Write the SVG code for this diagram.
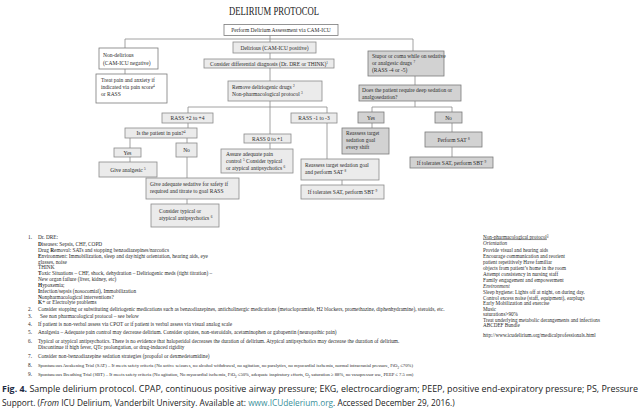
<svg xmlns="http://www.w3.org/2000/svg" width="640" height="417" viewBox="0 0 640 417">
<style>
.bw{fill:#ffffff;stroke:#7a7a7a;stroke-width:0.8}
.bl{fill:#ebebeb;stroke:#8a8a8a;stroke-width:0.8}
.bd{fill:#d2d2d2;stroke:#7a7a7a;stroke-width:0.8}
.t{font-family:"Liberation Serif","Times New Roman",serif;font-size:5.5px;fill:#2a2a2a}
.c{text-anchor:middle}
.f{font-family:"Liberation Serif","Times New Roman",serif;font-size:5.3px;fill:#2a2a2a}
.fs{font-family:"Liberation Serif","Times New Roman",serif;font-size:4.7px;fill:#2a2a2a}
.r{font-family:"Liberation Serif","Times New Roman",serif;font-size:5.2px;fill:#2a2a2a}
.sup{font-size:3.4px;baseline-shift:super}
.sub{font-size:3.2px;baseline-shift:sub}
.cap{font-family:"Open Sans","Liberation Sans",Arial,sans-serif;font-size:8.3px;fill:#222}
#conn line{stroke:#8c8c8c;stroke-width:0.8}
</style>
<rect width="640" height="417" fill="#ffffff"/>
<text x="274" y="15" class="c" font-family="Liberation Serif,serif" font-size="13" fill="#222" textLength="90" lengthAdjust="spacingAndGlyphs">DELIRIUM PROTOCOL</text>

<g id="conn">
<line x1="270" y1="35" x2="270" y2="42"/>
<line x1="125" y1="39" x2="413" y2="39"/>
<line x1="125" y1="39" x2="125" y2="74"/>
<line x1="413" y1="39" x2="413" y2="51"/>
<line x1="270" y1="53" x2="270" y2="59"/>
<line x1="270" y1="68" x2="270" y2="81"/>
<line x1="270" y1="101" x2="270" y2="134"/>
<line x1="188" y1="107" x2="327" y2="107"/>
<line x1="188" y1="107" x2="188" y2="128"/>
<line x1="327" y1="107" x2="327" y2="159"/>
<line x1="130" y1="138" x2="130" y2="162"/>
<line x1="187" y1="138" x2="187" y2="204"/>
<line x1="270" y1="143" x2="270" y2="149"/>
<line x1="342" y1="180" x2="342" y2="185"/>
<line x1="415" y1="76" x2="415" y2="85"/>
<line x1="415" y1="101" x2="415" y2="107"/>
<line x1="372" y1="107" x2="452" y2="107"/>
<line x1="372" y1="107" x2="372" y2="128"/>
<line x1="452" y1="107" x2="452" y2="157"/>
</g>

<g id="n_perform"><rect class="bw" x="224" y="24.5" width="114" height="11"/><text class="t c" x="281" y="32">Perform Delirium Assessment via CAM-ICU</text></g>
<g id="n_nondel"><rect class="bw" x="99" y="48" width="59" height="21"/><text class="t" x="103" y="57">Non-delirious</text><text class="t" x="103" y="64.5">(CAM-ICU negative)</text></g>
<g id="n_treat"><rect class="bw" x="96" y="74" width="71" height="29"/><text class="t" x="101" y="82">Treat pain and anxiety if</text><text class="t" x="101" y="89">indicated via pain score<tspan class="sup">4</tspan></text><text class="t" x="101" y="96">or RASS</text></g>
<g id="n_delirious"><rect class="bl" x="233" y="42" width="83" height="11"/><text class="t c" x="274.5" y="49.5">Delirious (CAM-ICU positive)</text></g>
<g id="n_consider"><rect class="bl" x="204" y="59" width="130" height="9"/><text class="t c" x="269" y="65.8">Consider differential diagnosis (Dr. DRE or THINK)<tspan class="sup">1</tspan></text></g>
<g id="n_remove"><rect class="bl" x="228" y="81" width="94" height="20"/><text class="t" x="232" y="89">Remove deliriogenic drugs <tspan class="sup">2</tspan></text><text class="t" x="232" y="95.5">Non-pharmacological protocol <tspan class="sup">3</tspan></text></g>
<g id="n_stupor"><rect class="bd" x="368" y="51" width="76" height="25"/><text class="t" x="372" y="57.5">Stupor or coma while on sedative</text><text class="t" x="372" y="64.5">or analgesic drugs <tspan class="sup">7</tspan></text><text class="t" x="372" y="71.5">(RASS -4 or -5)</text></g>
<g id="n_does"><rect class="bd" x="359" y="85" width="102" height="16"/><text class="t" x="362" y="92">Does the patient require deep sedation or</text><text class="t" x="362" y="98.5">analgosedation?</text></g>
<g id="n_yes_r"><rect class="bd" x="358" y="112" width="26" height="11"/><text class="t c" x="371" y="119.5">Yes</text></g>
<g id="n_no_r"><rect class="bd" x="435" y="112" width="27" height="11"/><text class="t c" x="448.5" y="119.5">No</text></g>
<g id="n_reassess_shift"><rect class="bd" x="342" y="128" width="47" height="26"/><text class="t" x="346" y="135">Reassess target</text><text class="t" x="346" y="142">sedation goal</text><text class="t" x="346" y="149">every shift</text></g>
<g id="n_sat_r"><rect class="bd" x="425" y="132" width="57" height="15"/><text class="t c" x="453.5" y="141.5">Perform SAT <tspan class="sup">8</tspan></text></g>
<g id="n_sbt_r"><rect class="bd" x="410" y="157" width="83" height="11"/><text class="t c" x="451.5" y="164.5">If tolerates SAT, perform SBT <tspan class="sup">9</tspan></text></g>
<g id="n_rass_m1"><rect class="bl" x="291" y="113" width="46" height="10"/><text class="t c" x="314" y="120">RASS -1 to -3</text></g>
<g id="n_reassess_sat"><rect class="bl" x="301" y="159" width="78" height="21"/><text class="t" x="305" y="167">Reassess target sedation goal</text><text class="t" x="305" y="174">and perform SAT <tspan class="sup">8</tspan></text></g>
<g id="n_sbt_l"><rect class="bl" x="301" y="185" width="83" height="14"/><text class="t c" x="342.5" y="193.8">If tolerates SAT, perform SBT <tspan class="sup">9</tspan></text></g>
<g id="n_rass_p2"><rect class="bl" x="162" y="113" width="51" height="10"/><text class="t c" x="187.5" y="120">RASS +2 to +4</text></g>
<g id="n_pain"><rect class="bl" x="125" y="128" width="72" height="10"/><text class="t c" x="161" y="135">Is the patient in pain?<tspan class="sup">4</tspan></text></g>
<g id="n_yes_l"><rect class="bl" x="114" y="148" width="27" height="9"/><text class="t c" x="127.5" y="154.5">Yes</text></g>
<g id="n_no_l"><rect class="bl" x="176" y="143" width="21" height="14"/><text class="t c" x="186.5" y="152">No</text></g>
<g id="n_analgesic"><rect class="bl" x="99" y="162" width="58" height="15"/><text class="t c" x="128" y="171.5">Give analgesic <tspan class="sup">5</tspan></text></g>
<g id="n_sedative"><rect class="bl" x="146" y="178" width="93" height="21"/><text class="t" x="150" y="186">Give adequate sedative for safety if</text><text class="t" x="150" y="193">required and titrate to goal RASS</text></g>
<g id="n_typical"><rect class="bl" x="151" y="204" width="68" height="23"/><text class="t" x="159" y="212.5">Consider typical or</text><text class="t" x="159" y="219.5">atypical antipsychotics <tspan class="sup">6</tspan></text></g>
<g id="n_rass_0"><rect class="bl" x="244" y="134" width="47" height="9"/><text class="t c" x="267.5" y="140.5">RASS 0 to +1</text></g>
<g id="n_assure"><rect class="bl" x="221" y="149" width="72" height="24"/><text class="t" x="226" y="156">Assure adequate pain</text><text class="t" x="226" y="163">control <tspan class="sup">5</tspan> Consider typical</text><text class="t" x="226" y="170">or atypical antipsychotics <tspan class="sup">6</tspan></text></g>

<g id="footnotes">
<text class="f" x="28" y="239">1.</text><text class="f" x="38" y="239">Dr. DRE:</text>
<text class="f" x="38" y="246"><tspan font-weight="bold">D</tspan>iseases: Sepsis, CHF, COPD</text>
<text class="f" x="38" y="252">Drug <tspan font-weight="bold">R</tspan>emoval: SATs and stopping benzodiazepines/narcotics</text>
<text class="f" x="38" y="258"><tspan font-weight="bold">E</tspan>nvironment: Immobilization, sleep and day/night orientation, hearing aids, eye</text>
<text class="f" x="38" y="264">glasses, noise</text>
<text class="f" x="38" y="269">THINK</text>
<text class="f" x="38" y="275"><tspan font-weight="bold">T</tspan>oxic Situations – CHF, shock, dehydration – Deliriogenic meds (tight titration) –</text>
<text class="f" x="38" y="281">New organ failure (liver, kidney, etc)</text>
<text class="f" x="38" y="287"><tspan font-weight="bold">H</tspan>ypoxemia;</text>
<text class="f" x="38" y="293"><tspan font-weight="bold">I</tspan>nfection/sepsis (nosocomial), Immobilization</text>
<text class="f" x="38" y="298.5"><tspan font-weight="bold">N</tspan>onpharmacological interventions?</text>
<text class="f" x="38" y="304"><tspan font-weight="bold">K</tspan>+ or Electrolyte problems</text>
<text class="f" x="28" y="311">2.</text><text class="f" x="38" y="311">Consider stopping or substituting deliriogenic medications such as benzodiazepines, anticholinergic medications (metoclopramide, H2 blockers, promethazine, diphenhydramine), steroids, etc.</text>
<text class="f" x="28" y="318">3.</text><text class="f" x="40" y="318">See non pharmacological protocol – see below</text>
<text class="f" x="28" y="326">4.</text><text class="f" x="38" y="326">If patient is non-verbal assess via CPOT or if patient is verbal assess via visual analog scale</text>
<text class="f" x="28" y="334">5.</text><text class="f" x="38" y="334">Analgesia – Adequate pain control may decrease delirium. Consider opiates, non-steroidals, acetaminophen or gabapentin (neuropathic pain)</text>
<text class="f" x="28" y="342.5">6.</text><text class="f" x="38" y="342.5">Typical or atypical antipsychotics. There is no evidence that haloperidol decreases the duration of delirium. Atypical antipsychotics may decrease the duration of delirium.</text>
<text class="f" x="38" y="348.5">Discontinue if high fever, QTc prolongation, or drug-induced rigidity</text>
<text class="f" x="28" y="358">7.</text><text class="f" x="38" y="358">Consider non-benzodiazepine sedation strategies (propofol or dexmedetomidine)</text>
<text class="f" x="28" y="367">8.</text><text class="fs" x="38" y="367">Spontaneous Awakening Trial (SAT) – If meets safety criteria (No active seizures, no alcohol withdrawal, no agitation, no paralytics, no myocardial ischemia, normal intracranial pressure, FiO<tspan class="sub">2</tspan> ≤70%)</text>
<text class="f" x="28" y="375.5">9.</text><text class="fs" x="38" y="375.5">Spontaneous Breathing Trial (SBT) – If meets safety criteria (No agitation, No myocardial ischemia, FiO<tspan class="sub">2</tspan> ≤50%, adequate inspiratory efforts, O<tspan class="sub">2</tspan> saturation ≥ 88%, no vasopressor use, PEEP ≤ 7.5 cm)</text>
</g>

<g id="nonpharm">
<text class="r" x="483" y="238.5" text-decoration="underline">Non-pharmacological protocol<tspan class="sup">3</tspan></text>
<text class="r" x="483" y="245" font-style="italic">Orientation</text>
<text class="r" x="483" y="251.5">Provide visual and hearing aids</text>
<text class="r" x="483" y="258">Encourage communication and reorient</text>
<text class="r" x="483" y="263.5">patient repetitively      Have familiar</text>
<text class="r" x="483" y="269.5">objects from patient’s home in the room</text>
<text class="r" x="483" y="275.5">Attempt consistency in nursing staff</text>
<text class="r" x="483" y="281.5">Family engagement and empowerment</text>
<text class="r" x="483" y="288" font-style="italic">Environment</text>
<text class="r" x="483" y="293.5">Sleep hygiene: Lights off at night, on during day.</text>
<text class="r" x="483" y="299.5">Control excess noise (staff, equipment), earplugs</text>
<text class="r" x="483" y="305">Early Mobilization and exercise</text>
<text class="r" x="483" y="310.5">Music</text>
<text class="r" x="483" y="316">saturations&gt;90%</text>
<text class="r" x="483" y="321.5">Treat underlying metabolic derangements and infections</text>
<text class="r" x="483" y="327">ABCDEF Bundle</text>
<text class="r" x="483" y="337">http://www.icudelirium.org/medicalprofessionals.html</text>
</g>

<g id="caption">
<text class="cap" x="2" y="392" textLength="636" lengthAdjust="spacingAndGlyphs"><tspan font-weight="bold" fill="#1d2a44">Fig. 4.</tspan>  Sample delirium protocol. CPAP, continuous positive airway pressure; EKG, electrocardiogram; PEEP, positive end-expiratory pressure; PS, Pressure</text>
<text class="cap" x="2" y="406">Support. (<tspan font-style="italic">From</tspan> ICU Delirium, Vanderbilt University. Available at: <tspan fill="#3a8f9a">www.ICUdelerium.org</tspan>. Accessed December 29, 2016.)</text>
</g>
</svg>
